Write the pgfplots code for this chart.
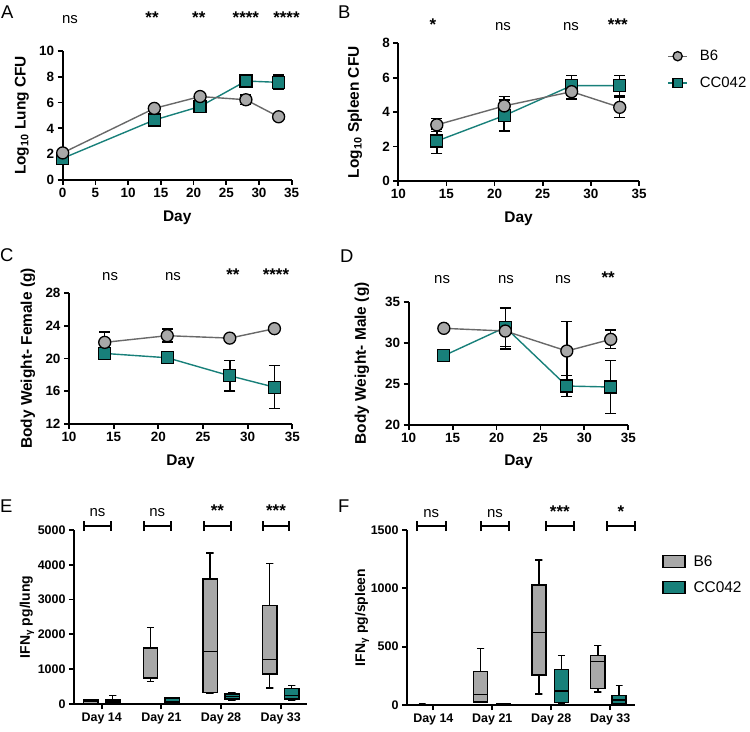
\documentclass[border=0pt]{standalone}
\usepackage{pgfplots}
\pgfplotsset{compat=1.18}
\usepackage{fontspec}
\setmainfont{Liberation Sans}
\definecolor{tealc}{RGB}{24,128,122}
\definecolor{gfill}{RGB}{168,168,168}
\definecolor{gline}{RGB}{105,105,105}
\pgfplotsset{
  gp/.style={
    scale only axis, anchor=south west, clip=false,
    axis x line*=bottom, axis y line*=left,
    axis line style={line width=1.8bp, black, -},
    every tick/.style={line width=1.8bp, black},
    major tick length=5bp, tick align=outside,
    /pgf/number format/assume math mode=true,
    /pgf/number format/1000 sep={},
    scaled ticks=false,
    ticklabel style={font=\fontsize{13.5}{15}\selectfont\bfseries},
    label style={font=\fontsize{15.5}{17}\selectfont\bfseries},
    xlabel style={anchor=center},
    ylabel style={anchor=center},
  },
  b6/.style={color=gline, line width=1.4bp, mark=*, mark size=6bp,
    mark options={fill=gfill, draw=black, line width=1.3bp}},
  cc/.style={color=tealc, line width=1.4bp, mark=square*, mark size=6bp,
    mark options={fill=tealc, draw=black, line width=1.3bp}},
  errb/.style={error bars/.cd, y dir=both, y explicit,
    error bar style={line width=1.5bp, black},
    error mark options={rotate=90, mark size=5.5bp, line width=1.5bp, black}},
  bxb6/.style={fill=gfill, draw=black, line width=1.4bp},
  bxcc/.style={fill=tealc, draw=black, line width=1.4bp},
  wh/.style={draw=black, line width=1.4bp, no marks},
}
\newcommand{\ns}[2]{\node[anchor=base, font=\fontsize{15}{17}\selectfont] at (axis cs:#1,#2) {ns};}
\newcommand{\st}[3]{\node[anchor=base, font=\fontsize{17}{18}\selectfont\bfseries] at (axis cs:#1,#2) {#3};}
\newcommand{\brk}[3]{%
  \draw[line width=1.8bp] (axis cs:#1,#3) -- (axis cs:#2,#3);
  \draw[line width=1.8bp] ([yshift=-5bp]axis cs:#1,#3) -- ([yshift=5bp]axis cs:#1,#3);
  \draw[line width=1.8bp] ([yshift=-5bp]axis cs:#2,#3) -- ([yshift=5bp]axis cs:#2,#3);}
% box: style, position, lower whisker, lower quartile, median, upper quartile, upper whisker
\newcommand{\bxp}[7]{%
  \pgfmathsetmacro{\bxL}{#2-0.12}\pgfmathsetmacro{\bxR}{#2+0.12}%
  \pgfmathsetmacro{\bxCL}{#2-0.06}\pgfmathsetmacro{\bxCR}{#2+0.06}%
  \edef\bxtmp{%
    \noexpand\addplot[wh] coordinates {(\bxCL,#7) (\bxCR,#7) (#2,#7) (#2,#6)};
    \noexpand\addplot[wh] coordinates {(\bxCL,#3) (\bxCR,#3) (#2,#3) (#2,#4)};
    \noexpand\addplot[#1, no marks] coordinates {(\bxL,#4) (\bxR,#4) (\bxR,#6) (\bxL,#6)} --cycle;
    \noexpand\addplot[wh] coordinates {(\bxL,#5) (\bxR,#5)};}%
  \bxtmp}
\begin{document}
\begin{tikzpicture}
\useasboundingbox (0bp,0bp) rectangle (750bp,732bp);

% ---------------- A ----------------
\begin{axis}[gp, at={(62.7bp,552bp)}, width=229bp, height=129bp,
  xmin=0, xmax=35, ymin=0, ymax=10, xtick={0,5,...,35}, ytick={0,2,...,10},
  xlabel={Day}, ylabel={Log\textsubscript{10} Lung CFU},
  xlabel style={at={(axis description cs:0.5,-0.295)}},
  ylabel style={at={(axis description cs:-0.178,0.5)}}]
\addplot[cc, errb] coordinates {(0,1.68) +- (0,0.15) (14,4.65) +- (0,0.1) (21,5.7) +- (0,0.15) (28,7.67) +- (0,0.3) (33,7.57) +- (0,0.55)};
\addplot[b6, errb] coordinates {(0,2.1) +- (0,0.1) (14,5.55) +- (0,0.1) (21,6.47) +- (0,0.1) (28,6.22) +- (0,0.35) (33,4.9) +- (0,0.1)};
\ns{1.1}{12.17}
\st{13.65}{12.17}{**}
\st{20.8}{12.17}{**}
\st{28.0}{12.17}{****}
\st{34.2}{12.17}{****}
\end{axis}

% ---------------- B ----------------
\begin{axis}[gp, at={(398.3bp,551bp)}, width=240.7bp, height=137.7bp,
  xmin=10, xmax=35, ymin=0, ymax=8, xtick={10,15,...,35}, ytick={0,2,...,8},
  xlabel={Day}, ylabel={Log\textsubscript{10} Spleen CFU},
  xlabel style={at={(axis description cs:0.5,-0.276)}},
  ylabel style={at={(axis description cs:-0.18,0.5)}},
  legend style={at={(axis description cs:1.105,0.98)}, anchor=north west, draw=none, fill=none,
    font=\fontsize{15}{18}\selectfont, row sep=11bp,
    /tikz/every odd column/.append style={column sep=10bp}},
  legend cell align=left,
  legend image code/.code={\draw[mark repeat=2, mark phase=2, #1] plot coordinates {(0bp,0bp) (9.5bp,0bp) (19bp,0bp)};}]
\addlegendimage{b6, mark size=4.6bp}
\addlegendentry{B6}
\addlegendimage{cc, mark size=4.6bp}
\addlegendentry{CC042}
\addplot[cc, errb] coordinates {(14,2.32) +- (0,0.71) (21,3.8) +- (0,0.9) (28,5.54) +- (0,0.58) (33,5.54) +- (0,0.6)};
\addplot[b6, errb] coordinates {(14,3.26) +- (0,0.38) (21,4.36) +- (0,0.55) (28,5.19) +- (0,0.42) (33,4.28) +- (0,0.58)};
\st{13.6}{8.77}{*}
\ns{20.87}{8.77}
\ns{27.94}{8.77}
\st{32.8}{8.77}{***}
\end{axis}

% ---------------- C ----------------
\begin{axis}[gp, at={(69bp,308.3bp)}, width=223.3bp, height=130.4bp,
  xmin=10, xmax=35, ymin=12, ymax=28, xtick={10,15,...,35}, ytick={12,16,...,28},
  xlabel={Day}, ylabel={Body Weight- Female (g)},
  xlabel style={at={(axis description cs:0.5,-0.291)}},
  ylabel style={at={(axis description cs:-0.184,0.5)}}]
\addplot[cc, errb] coordinates {(14,20.62) +- (0,0.6) (21,20.09) +- (0,0.4) (28,17.88) +- (0,1.85) (33,16.48) +- (0,2.63)};
\addplot[b6, errb] coordinates {(14,21.98) +- (0,1.27) (21,22.8) +- (0,0.8) (28,22.5) +- (0,0.3) (33,23.66) +- (0,0.3)};
\ns{14.6}{29.63}
\ns{21.64}{29.63}
\st{28.36}{29.63}{**}
\st{33.17}{29.63}{****}
\end{axis}

% ---------------- D ----------------
\begin{axis}[gp, at={(408.7bp,307bp)}, width=219.6bp, height=123.3bp,
  xmin=10, xmax=35, ymin=20, ymax=35, xtick={10,15,...,35}, ytick={20,25,...,35},
  xlabel={Day}, ylabel={Body Weight- Male (g)},
  xlabel style={at={(axis description cs:0.5,-0.296)}},
  ylabel style={at={(axis description cs:-0.213,0.5)}}]
\addplot[cc, errb] coordinates {(14,28.43) +- (0,0.3) (21,31.88) +- (0,2.35) (28,24.74) +- (0,1.3) (33,24.62) +- (0,3.25)};
\addplot[b6, errb] coordinates {(14,31.76) +- (0,0.3) (21,31.43) += (0,0.5) -= (0,2.2) (28,29.0) +- (0,3.57) (33,30.42) +- (0,1.13)};
\ns{13.8}{37.27}
\ns{21.08}{37.27}
\ns{27.56}{37.27}
\st{32.7}{37.27}{**}
\end{axis}

% ---------------- E ----------------
\begin{axis}[gp, at={(74bp,28bp)}, width=233bp, height=174bp,
  xmin=0.536, xmax=4.44, ymin=0, ymax=5000,
  xtick={1,2,3,4}, xticklabels={Day 14, Day 21, Day 28, Day 33},
  ytick={0,1000,2000,3000,4000,5000},
  ticklabel style={font=\fontsize{12.5}{14}\selectfont\bfseries},
  ylabel={IFN\textsubscript{γ} pg/lung},
  ylabel style={font=\fontsize{14}{16}\selectfont\bfseries, at={(axis description cs:-0.202,0.5)}}]
\bxp{bxb6}{0.816}{10}{20}{67}{115}{134}
\bxp{bxcc}{1.184}{10}{20}{60}{115}{249}
\bxp{bxb6}{1.816}{650}{727}{750}{1606}{2199}
\bxp{bxcc}{2.184}{30}{50}{80}{170}{190}
\bxp{bxb6}{2.816}{296}{335}{1501}{3595}{4340}
\bxp{bxcc}{3.184}{96}{143}{210}{287}{335}
\bxp{bxb6}{3.816}{459}{860}{1281}{2839}{4034}
\bxp{bxcc}{4.184}{115}{143}{249}{440}{526}
\brk{0.703}{1.156}{5115}
\brk{1.709}{2.156}{5115}
\brk{2.715}{3.162}{5115}
\brk{3.698}{4.144}{5115}
\ns{0.93}{5374}
\ns{1.93}{5374}
\st{2.94}{5374}{**}
\st{3.92}{5374}{***}
\end{axis}

% ---------------- F ----------------
\begin{axis}[gp, at={(407bp,27bp)}, width=228bp, height=175bp,
  xmin=0.553, xmax=4.42, ymin=0, ymax=1500,
  xtick={1,2,3,4}, xticklabels={Day 14, Day 21, Day 28, Day 33},
  ytick={0,500,1000,1500},
  ticklabel style={font=\fontsize{12.5}{14}\selectfont\bfseries},
  ylabel={IFN\textsubscript{γ} pg/spleen},
  ylabel style={font=\fontsize{14}{16}\selectfont\bfseries, at={(axis description cs:-0.197,0.5)}},
  legend style={at={(axis description cs:1.105,0.879)}, anchor=north west, draw=none, fill=none,
    font=\fontsize{15.5}{17}\selectfont, row sep=10bp,
    /tikz/every odd column/.append style={column sep=6bp}},
  legend cell align=left,
  legend image code/.code={\draw[#1] (0bp,-6bp) rectangle (22bp,6bp);}]
\addlegendimage{bxb6}
\addlegendentry{B6}
\addlegendimage{bxcc}
\addlegendentry{CC042}
\bxp{bxb6}{0.81}{0}{1}{3}{5}{8}
\bxp{bxcc}{1.19}{0}{1}{2}{3}{5}
\bxp{bxb6}{1.8}{20}{26}{91}{286}{483}
\bxp{bxcc}{2.19}{3}{5}{8}{12}{15}
\bxp{bxb6}{2.79}{94}{257}{620}{1029}{1243}
\bxp{bxcc}{3.17}{17}{23}{120}{303}{426}
\bxp{bxb6}{3.79}{111}{140}{374}{423}{509}
\bxp{bxcc}{4.15}{9}{14}{43}{80}{166}
\brk{0.718}{1.21}{1534}
\brk{1.81}{2.28}{1534}
\brk{2.91}{3.38}{1534}
\brk{3.94}{4.42}{1534}
\ns{0.964}{1611}
\ns{2.045}{1611}
\st{3.145}{1611}{***}
\st{4.18}{1611}{*}
\end{axis}

% panel letters
\node[anchor=base west, inner sep=0, font=\fontsize{18.5}{20}\selectfont] at (1bp,713bp) {A};
\node[anchor=base west, inner sep=0, font=\fontsize{18.5}{20}\selectfont] at (338bp,713bp) {B};
\node[anchor=base west, inner sep=0, font=\fontsize{18.5}{20}\selectfont] at (0bp,470bp) {C};
\node[anchor=base west, inner sep=0, font=\fontsize{18.5}{20}\selectfont] at (340bp,469bp) {D};
\node[anchor=base west, inner sep=0, font=\fontsize{18.5}{20}\selectfont] at (0bp,219bp) {E};
\node[anchor=base west, inner sep=0, font=\fontsize{18.5}{20}\selectfont] at (338bp,219bp) {F};
\end{tikzpicture}
\end{document}
